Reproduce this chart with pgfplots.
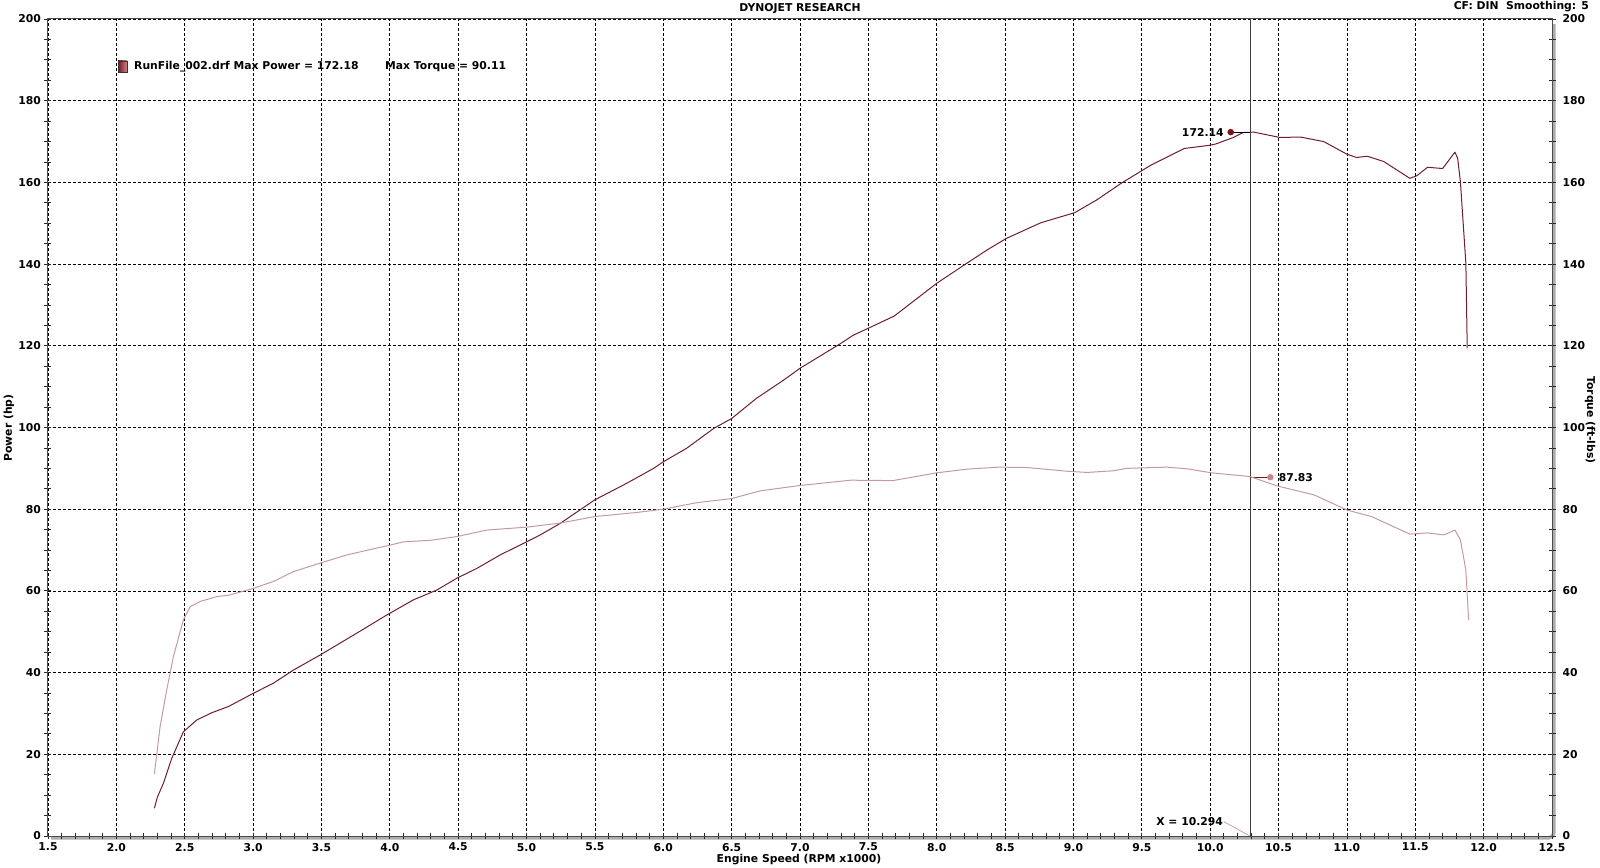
\documentclass[border=0pt]{standalone}
\usepackage{fontspec}
\setmainfont{DejaVu Sans}
\usepackage{pgfplots}
\pgfplotsset{compat=1.18}
\definecolor{pwr}{HTML}{6E1E2C}
\definecolor{trq}{HTML}{C49AA0}
\definecolor{pwrmark}{HTML}{7A1216}
\definecolor{trqmark}{HTML}{C8868E}
\newcommand{\lbl}{\fontsize{10.8}{12}\selectfont\bfseries}
\pgfplotstableread{
x y
2.278 6.8
2.30 9.5
2.344 12.9
2.405 19.0
2.49 25.5
2.588 28.4
2.70 30.2
2.82 31.7
3.0 34.9
3.148 37.4
3.294 40.6
3.49 44.3
3.636 47.2
3.80 50.5
3.978 54.1
4.172 57.8
4.343 60.2
4.49 63.1
4.636 65.5
4.807 68.8
5.0 72.0
5.1 73.7
5.245 76.5
5.5 82.3
5.73 86.3
5.93 90.0
6.0 91.6
6.17 94.9
6.37 99.8
6.5 102.2
6.68 107.1
6.88 111.6
7.0 114.5
7.28 120.2
7.39 122.6
7.5 124.3
7.69 127.3
8.0 135.3
8.22 140.2
8.37 143.5
8.51 146.3
8.76 150.1
9.01 152.6
9.17 155.7
9.35 159.8
9.56 164.1
9.81 168.3
10.0 169.1
10.04 169.4
10.17 171.0
10.24 172.2
10.32 172.3
10.51 171.0
10.66 171.1
10.83 170.0
11.0 166.9
11.07 166.1
11.15 166.4
11.27 165.1
11.46 161.0
11.51 161.6
11.59 163.7
11.70 163.4
11.79 167.4
11.81 165.9
11.83 160.2
11.87 140.2
11.88 119.4
}\power
\pgfplotstableread{
x y
2.278 15.2
2.32 26.8
2.368 35.7
2.417 43.9
2.49 52.9
2.539 56.1
2.612 57.4
2.734 58.6
2.83 59.0
3.0 60.6
3.148 62.3
3.294 64.7
3.49 66.8
3.685 68.8
3.88 70.3
4.0 71.2
4.1 72.0
4.3 72.4
4.49 73.3
4.71 74.9
5.0 75.6
5.245 76.6
5.5 78.2
5.806 79.2
6.0 80.0
6.245 81.6
6.5 82.6
6.71 84.5
7.0 85.8
7.37 87.1
7.68 87.0
8.0 88.9
8.22 89.8
8.46 90.3
8.66 90.2
8.95 89.3
9.10 89.0
9.29 89.4
9.39 90.0
9.68 90.3
9.83 89.9
10.01 88.9
10.29 88.0
10.49 85.7
10.76 83.5
11.0 79.8
11.18 78.2
11.46 73.9
11.59 74.2
11.71 73.7
11.79 74.9
11.83 72.5
11.87 65.1
11.89 52.9
}\torque
\begin{document}
\begin{tikzpicture}[x=1pt,y=1pt,font=\lbl]
\path[use as bounding box] (-48,-31) rectangle (1552,836);
% frame shadow
\draw[gray!65, line width=3.5pt, rounded corners=5pt] (3,-1.8) -- (1505.8,-1.8) -- (1505.8,812);
\begin{axis}[
  at={(0,0)}, anchor=south west, scale only axis,
  width=1504pt, height=817pt,
  xmin=1.5, xmax=12.5, ymin=0, ymax=200,
  xtick={1.5,2,2.5,3,3.5,4,4.5,5,5.5,6,6.5,7,7.5,8,8.5,9,9.5,10,10.5,11,11.5,12,12.5},
  ytick={0,20,40,60,80,100,120,140,160,180,200},
  minor x tick num=4, minor y tick num=3,
  xtick pos=left, ytick pos=both, yticklabel pos=left,
  tick align=center, major tick length=7pt, minor tick length=7pt,
  tick style={black!85, line width=0.8pt},
  axis line style={black!70, line width=1pt},
  grid=major,
  grid style={black, line width=0.7pt, dash pattern=on 3pt off 2pt},
  /pgf/number format/assume math mode=true,
  ticklabel style={font=\lbl},
  xticklabel style={/pgf/number format/.cd, fixed, fixed zerofill, precision=1},
]
\addplot[pwr, line width=1pt, line join=round] table[x=x,y=y] {\power};
% cursor
\addplot[black!75, line width=1pt] coordinates {(10.294,0) (10.294,200)};
\addplot[black, line width=0.8pt] coordinates {(10.15,172.3) (10.294,172.3)};
\addplot[only marks, mark=*, mark size=3pt, pwrmark] coordinates {(10.15,172.3)};
\node[anchor=east, inner sep=0pt] at (axis cs:10.10,172.3) {172.14};
\addplot[pwrmark, line width=0.8pt] coordinates {(10.294,87.83) (10.44,87.83)};
\addplot[only marks, mark=*, mark size=3pt, trqmark] coordinates {(10.44,87.83)};
\node[anchor=west, inner sep=0pt] at (axis cs:10.50,87.83) {87.83};
\addplot[trqmark, line width=0.6pt] coordinates {(10.10,3.5) (10.29,0)};
\node[anchor=east, inner sep=0pt] at (axis cs:10.095,3.5) {X = 10.294};
\end{axis}
\begin{axis}[
  at={(0,0)}, anchor=south west, scale only axis,
  width=1504pt, height=817pt,
  xmin=1.5, xmax=12.5, ymin=0, ymax=200,
  axis x line=none, axis y line*=right,
  y axis line style={draw=none},
  ytick={0,20,40,60,80,100,120,140,160,180,200},
  ytick style={draw=none}, major tick length=0pt,
  /pgf/number format/assume math mode=true,
  yticklabel style={font=\lbl, xshift=7pt},
]
\addplot[trq, line width=1pt, line join=round] table[x=x,y=y] {\torque};
\end{axis}
% texts
\node at (752,827) {DYNOJET RESEARCH};
\node[anchor=east, inner sep=0pt] at (1541,829) {CF: DIN\ \ Smoothing: 5};
\node[rotate=90] at (-39,408) {Power (hp)};
\node[rotate=-90] at (1542,416) {Torque (ft-lbs)};
\node at (751,-24) {Engine Speed (RPM x1000)};
% legend
\draw[black!80, line width=0.6pt, left color=pwrmark, right color=trqmark] (70,764) rectangle (79,775);
\node[anchor=west, inner sep=0pt] at (86,769.5) {RunFile\_002.drf Max Power = 172.18};
\node[anchor=west, inner sep=0pt] at (337,769.5) {Max Torque = 90.11};
\end{tikzpicture}
\end{document}
